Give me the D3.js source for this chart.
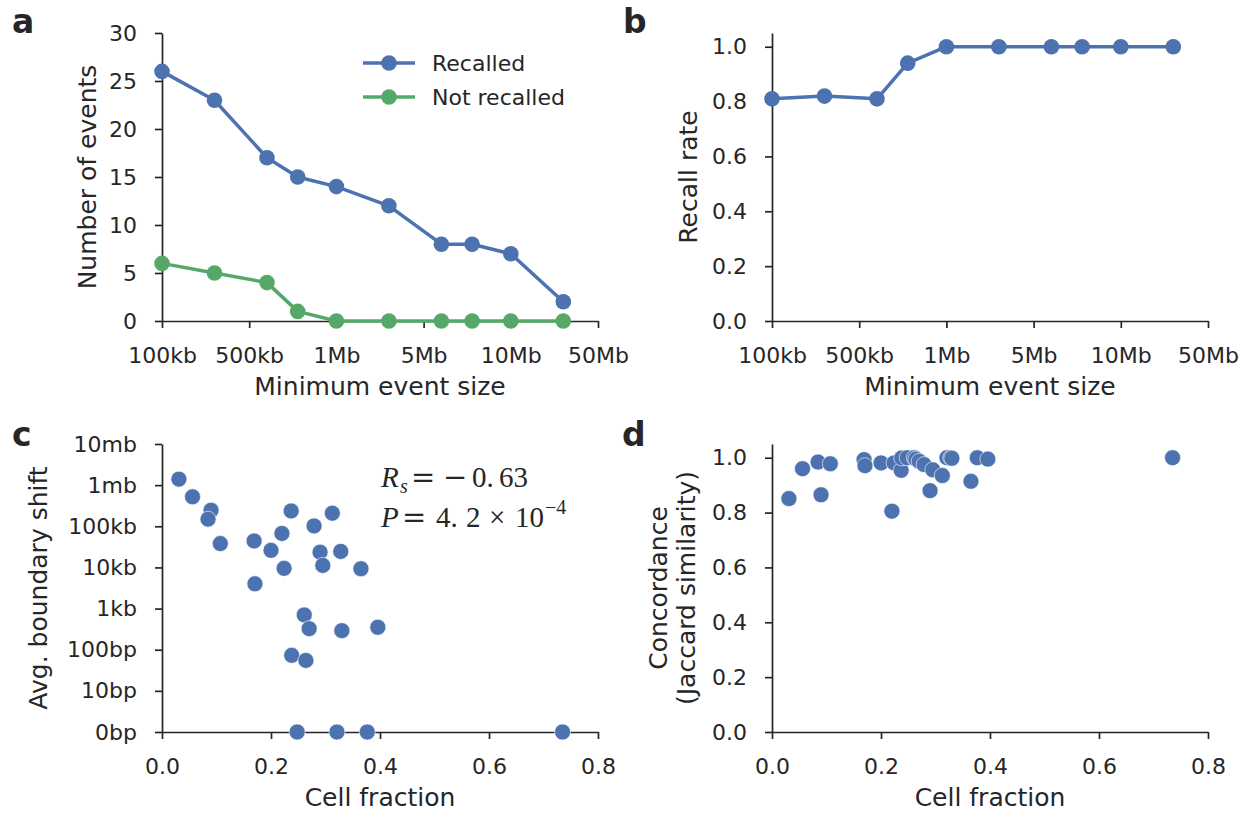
<!DOCTYPE html>
<html>
<head>
<meta charset="utf-8">
<script src="https://cdn.jsdelivr.net/npm/d3@7"></script>
<style>
  html, body { margin: 0; padding: 0; background: #fff; }
  svg { display: block; }
  text { font-family: "DejaVu Sans", sans-serif; fill: #262626; }
</style>
</head>
<body>
<svg id="fig" width="1247" height="813"></svg>
<script>
// ---------- data ----------
const eventSizes = [1e5, 2e5, 4e5, 6e5, 1e6, 2e6, 4e6, 6e6, 1e7, 2e7];
const recalled = [26, 23, 17, 15, 14, 12, 8, 8, 7, 2];
const notRecalled = [6, 5, 4, 1, 0, 0, 0, 0, 0, 0];
const recallRate = [0.81, 0.82, 0.81, 0.94, 1, 1, 1, 1, 1, 1];
const sizeTickValues = [1e5, 316228, 1e6, 3162278, 1e7, 31622777];
const sizeTickLabels = ["100kb", "500kb", "1Mb", "5Mb", "10Mb", "50Mb"];

const cellFraction = [0.031, 0.056, 0.090, 0.0845, 0.107, 0.169, 0.1705, 0.200, 0.220, 0.224,
  0.237, 0.238, 0.248, 0.261, 0.264, 0.270, 0.279, 0.290, 0.295, 0.3125,
  0.321, 0.328, 0.330, 0.365, 0.3766, 0.396, 0.735];
const boundaryShift = [1.4e6, 5.2e5, 2.45e5, 1.49e5, 3.8e4, 4.4e4, 4.0e3, 2.6e4, 6.7e4, 9.5e3,
  2.36e5, 72, 0, 700, 54, 324, 1.02e5, 2.35e4, 1.12e4, 2.08e5,
  0, 2.45e4, 290, 9.3e3, 0, 350, 0];
const concordance = [0.851, 0.96, 0.865, 0.984, 0.978, 0.993, 0.971, 0.981, 0.805, 0.981,
  0.954, 0.999, 1.0, 1.0, 0.995, 0.987, 0.975, 0.88, 0.956, 0.935,
  1.0, 1.0, 0.998, 0.914, 1.0, 0.995, 1.0];
const shiftTickLabels = ["0bp", "10bp", "100bp", "1kb", "10kb", "100kb", "1mb", "10mb"];
const shiftTickValues = [0, 1, 2, 3, 4, 5, 6, 7];   // log10(1 + shift)
const rateTicks = [0, 0.2, 0.4, 0.6, 0.8, 1.0];
const countTicks = [0, 5, 10, 15, 20, 25, 30];
const fracTicks = [0, 0.2, 0.4, 0.6, 0.8];

// ---------- style ----------
const BLUE = "#4C72B0", GREEN = "#55A868", INK = "#262626";
const TICK_FS = 22, LABEL_FS = 25;
const svg = d3.select("#fig");

const colL = [162, 598], colR = [772, 1208];
const rowT = [321, 33], rowB = [732, 444];

function styleAxis(g) {
  g.select(".domain").attr("stroke", INK).attr("stroke-width", 1.7);
  g.selectAll(".tick line").attr("stroke", INK).attr("stroke-width", 1.7);
  g.selectAll(".tick text").attr("fill", INK).style("font-size", TICK_FS + "px")
    .style("font-family", '"DejaVu Sans", sans-serif');
}
function drawAxes(x, y, xAxis, yAxis) {
  const gx = svg.append("g").attr("transform", `translate(0,${y.range()[0]})`).call(xAxis);
  styleAxis(gx);
  const gy = svg.append("g").attr("transform", `translate(${x.range()[0]},0)`).call(yAxis);
  styleAxis(gy);
}
function panelLetter(t, x, y) {
  svg.append("text").attr("x", x).attr("y", y).text(t)
    .style("font-size", "33px").style("font-weight", "bold").attr("fill", "#222");
}
function xLabel(t, cx, y) {
  svg.append("text").attr("x", cx).attr("y", y).attr("text-anchor", "middle")
    .style("font-size", LABEL_FS + "px").text(t);
}
function yLabel(lines, x, cy) {
  const g = svg.append("g").attr("transform", `translate(${x},${cy}) rotate(-90)`);
  lines.forEach((t, i) => {
    g.append("text").attr("x", 0).attr("y", (i - (lines.length - 1)) * 28)
      .attr("text-anchor", "middle").style("font-size", LABEL_FS + "px").text(t);
  });
}

// ---------- panel a ----------
const xa = d3.scaleLog().domain([1e5, 31622777]).range(colL);
const ya = d3.scaleLinear().domain([0, 30]).range(rowT);
const sizeAxis = sc => d3.axisBottom(sc).tickValues(sizeTickValues)
  .tickFormat((d, i) => sizeTickLabels[i]).tickSizeInner(7).tickSizeOuter(0).tickPadding(19);
drawAxes(xa, ya, sizeAxis(xa),
  d3.axisLeft(ya).tickValues(countTicks).tickFormat(d3.format("d")).tickSizeInner(7).tickSizeOuter(0).tickPadding(18));

function lineSeries(x, y, xs, ys, color) {
  const pts = xs.map((d, i) => [d, ys[i]]);
  svg.append("path").datum(pts)
    .attr("d", d3.line().x(d => x(d[0])).y(d => y(d[1])))
    .attr("fill", "none").attr("stroke", color).attr("stroke-width", 3.5)
    .attr("stroke-linejoin", "round");
  svg.append("g").selectAll("circle").data(pts).join("circle")
    .attr("cx", d => x(d[0])).attr("cy", d => y(d[1])).attr("r", 7.8).attr("fill", color);
}
lineSeries(xa, ya, eventSizes, notRecalled, GREEN);
lineSeries(xa, ya, eventSizes, recalled, BLUE);

// legend
const legendItems = [["Recalled", BLUE], ["Not recalled", GREEN]];
legendItems.forEach(([name, c], i) => {
  const yy = 63 + i * 34;
  svg.append("line").attr("x1", 363).attr("x2", 415).attr("y1", yy).attr("y2", yy)
    .attr("stroke", c).attr("stroke-width", 3.5);
  svg.append("circle").attr("cx", 389).attr("cy", yy).attr("r", 7.8).attr("fill", c);
  svg.append("text").attr("x", 432).attr("y", yy).attr("dy", "0.36em")
    .style("font-size", TICK_FS + "px").text(name);
});
panelLetter("a", 12, 33);
xLabel("Minimum event size", (colL[0] + colL[1]) / 2, 395);
yLabel(["Number of events"], 96, (rowT[0] + rowT[1]) / 2);

// ---------- panel b ----------
const xb = d3.scaleLog().domain([1e5, 31622777]).range(colR);
const yb = d3.scaleLinear().domain([0, 1.05]).range(rowT);
drawAxes(xb, yb, sizeAxis(xb),
  d3.axisLeft(yb).tickValues(rateTicks).tickFormat(d3.format(".1f")).tickSizeInner(7).tickSizeOuter(0).tickPadding(18));
lineSeries(xb, yb, eventSizes, recallRate, BLUE);
panelLetter("b", 623, 33);
xLabel("Minimum event size", (colR[0] + colR[1]) / 2, 395);
yLabel(["Recall rate"], 697, (rowT[0] + rowT[1]) / 2);

// ---------- panel c ----------
const xc = d3.scaleLinear().domain([0, 0.8]).range(colL);
const yc = d3.scaleLinear().domain([0, 7]).range(rowB);
const fracAxis = sc => d3.axisBottom(sc).tickValues(fracTicks).tickFormat(d3.format(".1f"))
  .tickSizeInner(7).tickSizeOuter(0).tickPadding(19);
drawAxes(xc, yc, fracAxis(xc),
  d3.axisLeft(yc).tickValues(shiftTickValues).tickFormat((d, i) => shiftTickLabels[i])
    .tickSizeInner(7).tickSizeOuter(0).tickPadding(18));
svg.append("g").selectAll("circle").data(cellFraction).join("circle")
  .attr("cx", d => xc(d)).attr("cy", (d, i) => yc(Math.log10(1 + boundaryShift[i])))
  .attr("r", 8).attr("fill", BLUE).attr("stroke", "#fff").attr("stroke-width", 0.6);

// annotation (mathtext-like)
const SERIF = '"Liberation Serif", "DejaVu Serif", serif';
function annText(y, parts) {
  const t = svg.append("text").attr("y", y).style("font-family", SERIF).style("font-size", "29px");
  parts.forEach(p => {
    const s = t.append("tspan").attr("x", p.x).attr("y", y + (p.dy || 0)).text(p.t);
    if (p.it) s.style("font-style", "italic");
    if (p.small) s.style("font-size", "20px");
    if (p.op) s.style("font-family", '"DejaVu Serif", serif').style("font-weight", "200");
  });
}
annText(487, [
  { t: "R", x: 381, it: true },
  { t: "s", x: 400, dy: 6, it: true, small: true },
  { t: "=", x: 411, op: true },
  { t: "\u2212", x: 443, op: true },
  { t: "0.", x: 472 },
  { t: "63", x: 499 }
]);
annText(527, [
  { t: "P", x: 381, it: true },
  { t: "=", x: 402, op: true },
  { t: "4.", x: 436 },
  { t: "2", x: 466 },
  { t: "\u00D7", x: 489 },
  { t: "10", x: 515 },
  { t: "\u22124", x: 545, dy: -13, small: true }
]);
panelLetter("c", 12, 446);
xLabel("Cell fraction", (colL[0] + colL[1]) / 2, 806);
yLabel(["Avg. boundary shift"], 47, (rowB[0] + rowB[1]) / 2);

// ---------- panel d ----------
const xd = d3.scaleLinear().domain([0, 0.8]).range(colR);
const yd = d3.scaleLinear().domain([0, 1.05]).range(rowB);
drawAxes(xd, yd, fracAxis(xd),
  d3.axisLeft(yd).tickValues(rateTicks).tickFormat(d3.format(".1f")).tickSizeInner(7).tickSizeOuter(0).tickPadding(18));
svg.append("g").selectAll("circle").data(cellFraction).join("circle")
  .attr("cx", d => xd(d)).attr("cy", (d, i) => yd(concordance[i]))
  .attr("r", 8).attr("fill", BLUE).attr("stroke", "#fff").attr("stroke-width", 0.6);
panelLetter("d", 622, 446);
xLabel("Cell fraction", (colR[0] + colR[1]) / 2, 806);
yLabel(["Concordance", "(Jaccard similarity)"], 695, (rowB[0] + rowB[1]) / 2);
</script>
</body>
</html>
